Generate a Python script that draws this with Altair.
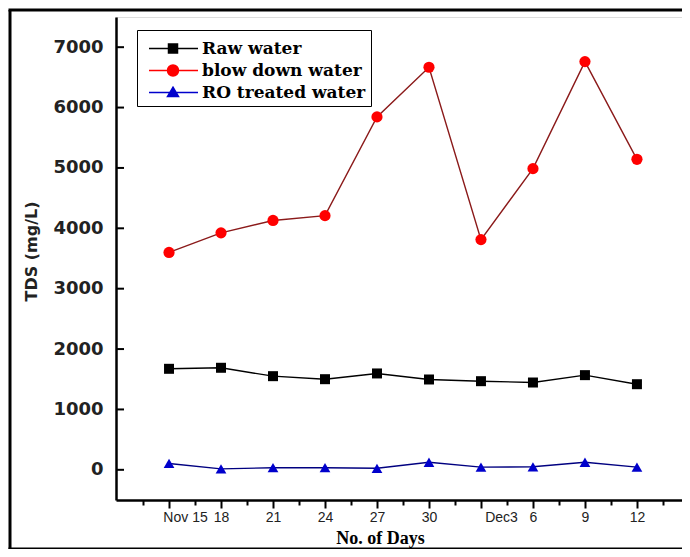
import altair as alt
import pandas as pd

# ---- data ----
days = [15, 18, 21, 24, 27, 30, 33, 36, 39, 42]
day_labels = ["Nov 15", "18", "21", "24", "27", "30", "Dec3", "6", "9", "12"]
minor_days = [13.5, 16.5, 19.5, 22.5, 25.5, 28.5, 31.5, 34.5, 37.5, 40.5, 43.5]
y_ticks = [0, 1000, 2000, 3000, 4000, 5000, 6000, 7000]

series = ["Raw water", "blow down water", "RO treated water"]
raw_water = [1673, 1690, 1551, 1501, 1596, 1496, 1468, 1446, 1568, 1418]
blow_down = [3600, 3925, 4130, 4210, 5845, 6668, 3813, 4988, 6761, 5143]
ro_treated = [105, 15, 35, 35, 25, 125, 45, 50, 125, 45]

marker_colors = ["#000000", "#ff0000", "#0000cc"]
line_colors = ["#000000", "#8b1a1a", "#000080"]
shapes = ["square", "circle", "triangle-up"]
marker_sizes = [100, 125, 115]

# legend symbols: a short line with the marker on it
legend_paths = [
    "M-0.52,0H3.4M1.04,-0.36H1.76V0.36H1.04Z",
    "M-0.52,0H3.4M1.84,0A0.44,0.44,0,1,1,0.96,0A0.44,0.44,0,1,1,1.84,0Z",
    "M-0.52,0H3.4M1.4,-0.42L1.84,0.32H0.96Z",
]

df = pd.DataFrame({
    "day": days * 3,
    "series": [s for s in series for _ in days],
    "tds": raw_water + blow_down + ro_treated,
})
ticks_df = pd.DataFrame({"tds": y_ticks})
frame_df = pd.DataFrame({"frame": ["outer"]})

W, H = 566, 483
x_scale = alt.Scale(domain=[11.94, 44.6], nice=False, zero=False)
y_scale = alt.Scale(domain=[-500, 7500], nice=False, zero=False)

label_expr = f"{day_labels}[indexof({days}, datum.value)]"

x_major = alt.Axis(
    values=days, labelExpr=label_expr, grid=False, orient="bottom",
    tickSize=8, tickWidth=2, tickColor="black",
    domainColor="black", domainWidth=2.5,
    labelFont="Liberation Sans", labelFontSize=14, labelColor="#222222",
    labelPadding=2, labelOverlap=False,
    labelOffset={"condition": [{"test": "datum.value == 15", "value": 16},
                               {"test": "datum.value == 33", "value": 20}],
                 "value": 0},
    title="No. of Days", titleFont="Liberation Serif", titleFontSize=18,
    titleFontWeight="bold", titleColor="black",
    titleX=264, titleY=38, titleAlign="center", titleBaseline="middle",
)
x_minor = alt.Axis(values=minor_days, labels=False, domain=False, grid=False,
                   orient="bottom", tickSize=5, tickWidth=2, tickColor="black",
                   title=None)

y_axis = alt.Axis(
    values=y_ticks, ticks=False, grid=False, format="d",
    domainColor="black", domainWidth=2.5,
    labelFont="DejaVu Sans", labelFontSize=18, labelFontWeight="bold",
    labelColor="#222222", labelPadding=13,
    title="TDS (mg/L)", titleFont="DejaVu Sans", titleFontSize=16,
    titleFontWeight="bold", titleColor="#222222", titleAngle=270,
    titleX=-85, titleY=234, titleAlign="center", titleBaseline="middle",
)

legend = alt.Legend(
    title=None, orient="none", legendX=21, legendY=13,
    symbolSize=625, symbolStrokeWidth=1.5, symbolOpacity=1,
    labelFont="DejaVu Serif", labelFontSize=17, labelFontWeight="bold",
    labelColor="black", labelOffset=33, labelLimit=300,
    padding=5, rowPadding=0, strokeColor="black", fillColor="white",
)

base = alt.Chart(df)

layers = []
for i, s in enumerate(series):
    sub = base.transform_filter(alt.datum.series == s)
    layers.append(
        sub.mark_line(strokeWidth=1.4, color=line_colors[i]).encode(
            x=alt.X("day:Q", scale=x_scale, axis=x_major if i == 0 else None),
            y=alt.Y("tds:Q", scale=y_scale, axis=y_axis),
        )
    )
for i, s in enumerate(series):
    sub = base.transform_filter(alt.datum.series == s)
    layers.append(
        sub.mark_point(shape=shapes[i], filled=True, size=marker_sizes[i],
                       color=marker_colors[i], opacity=1).encode(
            x=alt.X("day:Q", scale=x_scale, axis=None),
            y=alt.Y("tds:Q", scale=y_scale, axis=y_axis),
        )
    )

legend_layer = base.mark_point(filled=True, opacity=0).encode(
    x=alt.X("day:Q", scale=x_scale, axis=x_minor),
    y=alt.Y("tds:Q", scale=y_scale, axis=y_axis),
    fill=alt.Fill("series:N", scale=alt.Scale(domain=series, range=marker_colors), legend=legend),
    stroke=alt.Stroke("series:N", scale=alt.Scale(domain=series, range=marker_colors), legend=legend),
    shape=alt.Shape("series:N", scale=alt.Scale(domain=series, range=legend_paths), legend=legend),
)

y_tick_marks = alt.Chart(ticks_df).mark_rule(color="black", strokeWidth=2).encode(
    y=alt.Y("tds:Q", scale=y_scale, axis=y_axis),
    x=alt.value(0),
    x2=alt.value(8),
)

# thick frame around the whole figure (left, top, bottom), as in the reference picture
frame_rule = alt.Chart(frame_df).mark_rule(color="black", strokeWidth=3)
frame_left = frame_rule.encode(x=alt.value(-106), y=alt.value(-7), y2=alt.value(532))
frame_top = frame_rule.encode(x=alt.value(-107.5), x2=alt.value(W), y=alt.value(-7))
frame_bottom = frame_rule.encode(x=alt.value(-107.5), x2=alt.value(W), y=alt.value(532))

chart = alt.layer(*layers, legend_layer, y_tick_marks,
                  frame_left, frame_top, frame_bottom).resolve_axis(
    x="independent"
).properties(
    width=W, height=H,
    padding={"left": 108, "top": 9, "right": 0, "bottom": 49},
    autosize=alt.AutoSizeParams(type="none"),
).configure_view(stroke="#555555", strokeWidth=1.5).configure_legend(
    strokeWidth=2
).configure(background="white")

chart.save("out.html", embed_options={"renderer": "svg", "actions": False})
